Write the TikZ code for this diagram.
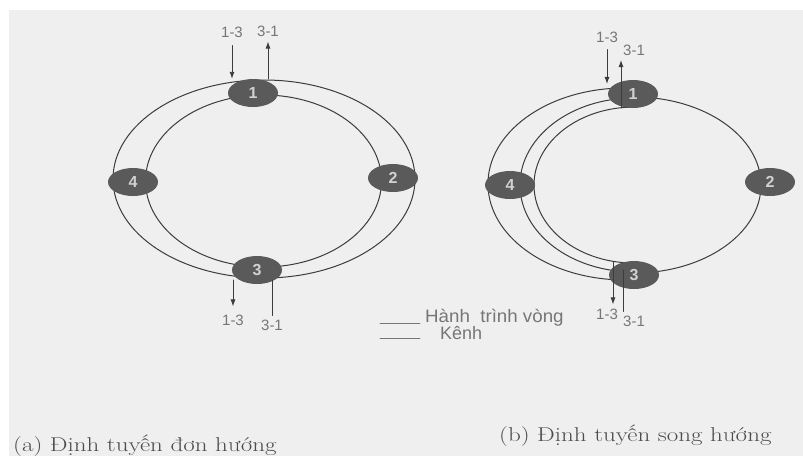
\documentclass[tikz,border=0pt]{standalone}
\usepackage{graphicx}
\usepackage{fontspec}
\newfontfamily\labelfont{Liberation Sans}
\usetikzlibrary{shapes.geometric,arrows.meta}
\definecolor{paper}{HTML}{EFEFEF}
\definecolor{ink}{HTML}{3C3C3C}
\definecolor{stationgray}{HTML}{5A5A5A}
\definecolor{faint}{HTML}{767676}

\begin{document}
\begin{tikzpicture}[x=1pt,y=-1pt,line cap=round,line join=round,
    ring/.style={ink,line width=1pt},
    station/.style={ellipse,fill=stationgray,minimum width=50pt,minimum height=28pt,
      inner sep=0pt,text=white!82!black,font=\labelfont\bfseries\fontsize{16}{16}\selectfont},
    flow/.style={ink,line width=0.9pt,-{Latex[length=7pt,width=5pt]}},
    tag/.style={text=faint,inner sep=0pt,font=\labelfont\fontsize{15}{15}\selectfont},
    key/.style={faint,line width=0.9pt},
    caption/.style={text=black!70,anchor=base west,inner sep=0pt,font=\fontsize{20}{20}\selectfont}]
  % Scanned page.
  \useasboundingbox (0,0) rectangle (803,456);
  \fill[paper] (9,10) rectangle (803,456);

  % (a) Unidirectional: ring path and one channel all the way round.
  \draw[ring] (264,179) ellipse [x radius=151,y radius=99];
  \draw[ring] (263.5,181) ellipse [x radius=118,y radius=86];
  \node[station] (a1) at (253,93) {1};
  \node[station] (a2) at (393,178) {2};
  \node[station] (a3) at (257,270) {3};
  \node[station] (a4) at (133,182) {4};

  \node[tag] (a13in) at (232,32) {1-3};
  \node[tag] (a31out) at (268,31) {3-1};
  \node[tag] (a13out) at (233,320) {1-3};
  \node[tag] (a31in) at (272,325) {3-1};
  \draw[flow,shorten <=8pt] (a13in.south) -- (a13in.south |- a1.north);
  \draw[flow,shorten >=5pt] (a31out.south |- a1.north) -- (a31out.south);
  \draw[flow,shorten >=8pt] (a13out.north |- a3.south west) -- (a13out.north);
  \draw[ring,shorten <=4pt] (a31in.north) -- (a31in.north |- a3.south east);

  % (b) Bidirectional: both channels run through 4 on the left side.
  \draw[ring] (634,97) arc[start angle=-90,end angle=90,x radius=127,y radius=88];
  \draw[ring] (615.4,88.2) arc[start angle=266,end angle=93,x radius=137,y radius=96];
  \draw[ring] (618.1,98.8) arc[start angle=262,end angle=97,x radius=114,y radius=87];
  \draw[ring] (630.5,107.1) arc[start angle=268,end angle=93,x radius=100,y radius=78];
  \node[station] (b1) at (633,94) {1};
  \node[station] (b2) at (770,182) {2};
  \node[station] (b3) at (634,275) {3};
  \node[station] (b4) at (510,185) {4};

  \node[tag] (b13in) at (607,37) {1-3};
  \node[tag] (b31out) at (634,50) {3-1};
  \node[tag] (b13out) at (607,314) {1-3};
  \node[tag] (b31in) at (634,321) {3-1};
  \coordinate (b31add) at (621,108);
  \coordinate (b13drop) at (613,262);
  \coordinate (b31drop) at (623,270);
  \draw[flow,shorten <=7pt] (b13in.south) -- (b13in.south |- b1.north west);
  \draw[flow,shorten >=10pt] (b31add) -- (b31add |- b31out.west);
  \draw[flow,shorten >=4pt] (b13drop) -- (b13drop |- b13out.north);
  \draw[ring,shorten <=4pt] (b31drop |- b31in.north) -- (b31drop);

  % Legend.
  \node[tag,anchor=west,font=\labelfont\fontsize{18}{18}\selectfont] (legring) at (425,318) {\scalebox{1.04}[1]{Hành\ \ trình vòng}};
  \node[tag,anchor=west,font=\labelfont\fontsize{18}{18}\selectfont] (legchan) at (440,333) {Kênh};
  \coordinate (k1) at (380,323);
  \coordinate (k2) at (380,338);
  \draw[key,shorten >=5pt] (k1) -- (k1 -| legring.west);
  \draw[key] (k2) -- ++(40,0);

  % Captions.
  \node[caption] (capa) at (13,451) {\scalebox{1.25}[1]{(a) Định tuyến đơn hướng}};
  \node[caption] (capb) at (499,441) {\scalebox{1.25}[1]{(b) Định tuyến song hướng}};
\end{tikzpicture}
\end{document}
